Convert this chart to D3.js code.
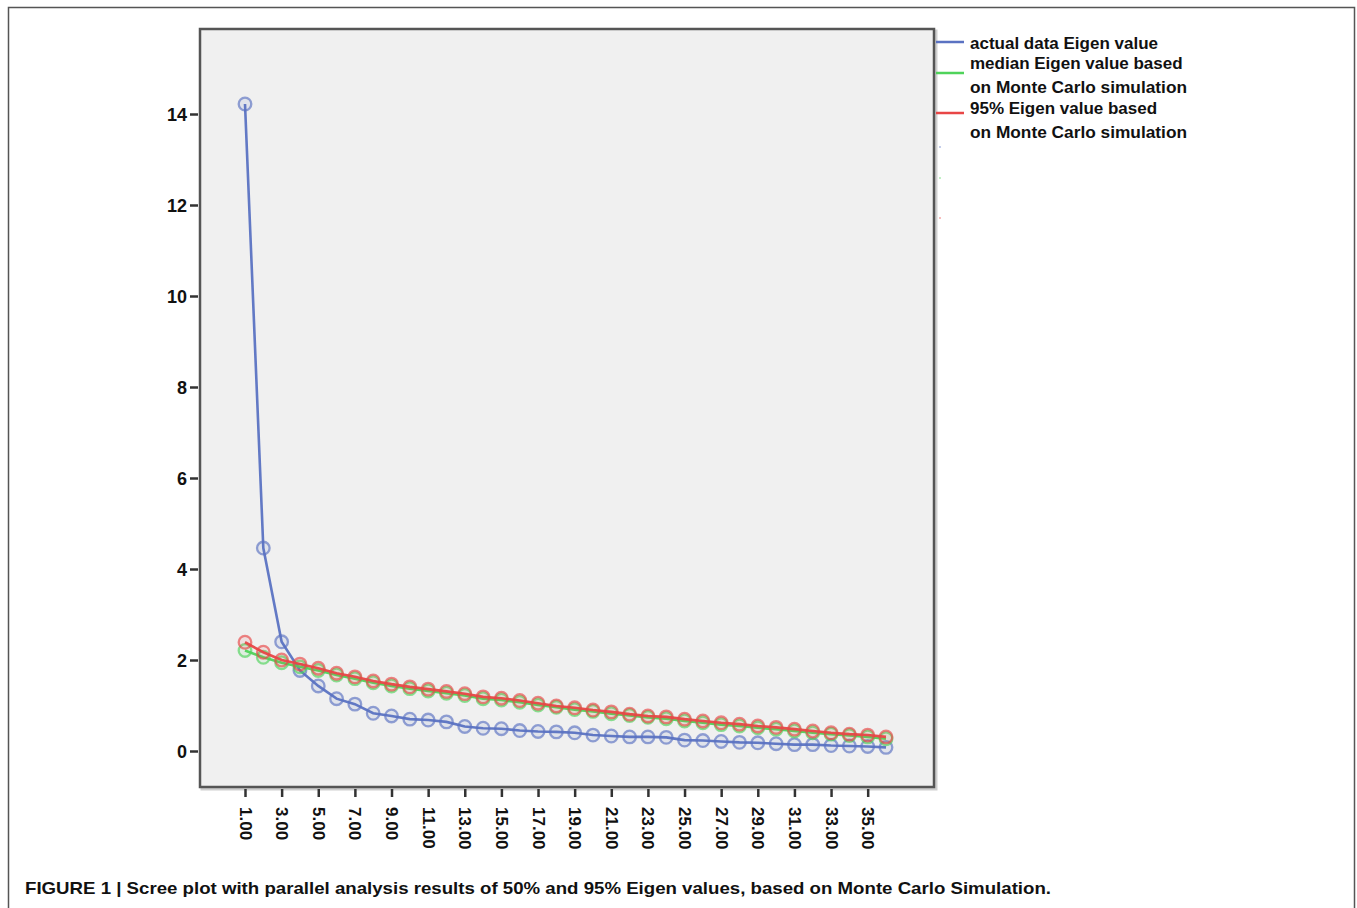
<!DOCTYPE html>
<html>
<head>
<meta charset="utf-8">
<script src="https://cdn.jsdelivr.net/npm/d3@7"></script>
<style>
    body { margin: 0; background: #fff; }
    svg { display: block; }
    text { font-family: "Liberation Sans", Arial, sans-serif; font-weight: bold; fill: #111; }
</style>
</head>
<body>
<svg id="chart" width="1357" height="908"></svg>
<script>
'use strict';

// components (x) and eigen values
const components = d3.range(1, 37);

const actualEigen = [
    14.22, 4.46, 2.40, 1.77, 1.43, 1.15, 1.03, 0.83, 0.77, 0.70,
    0.68, 0.64, 0.54, 0.50, 0.49, 0.45, 0.43, 0.42, 0.40, 0.35,
    0.33, 0.31, 0.31, 0.30, 0.24, 0.23, 0.21, 0.19, 0.18, 0.16,
    0.14, 0.14, 0.12, 0.11, 0.10, 0.08
];

const medianEigen = [
    2.21, 2.06, 1.94, 1.85, 1.77, 1.67, 1.59, 1.50, 1.43, 1.37,
    1.32, 1.27, 1.22, 1.15, 1.12, 1.07, 1.01, 0.96, 0.91, 0.87,
    0.82, 0.78, 0.74, 0.71, 0.66, 0.62, 0.58, 0.55, 0.51, 0.48,
    0.44, 0.40, 0.37, 0.34, 0.31, 0.27
];

const p95Eigen = [
    2.39, 2.17, 2.00, 1.91, 1.82, 1.71, 1.63, 1.54, 1.47, 1.41,
    1.36, 1.31, 1.26, 1.19, 1.16, 1.11, 1.05, 0.99, 0.95, 0.90,
    0.86, 0.81, 0.77, 0.75, 0.70, 0.66, 0.62, 0.59, 0.55, 0.52,
    0.48, 0.44, 0.40, 0.37, 0.35, 0.31
];

const yTicks = [0, 2, 4, 6, 8, 10, 12, 14];
const xTicks = d3.range(1, 36, 2);

const seriesNames = ['actual', 'median', 'p95'];
const legendLabels = [
    ['actual data Eigen value'],
    ['median Eigen value based', 'on Monte Carlo simulation'],
    ['95% Eigen value based', 'on Monte Carlo simulation']
];
const caption = 'FIGURE 1 | Scree plot with parallel analysis results of 50% and 95% Eigen values, based on Monte Carlo Simulation.';

const colors = { actual: '#5a72c2', median: '#4fd35a', p95: '#e84646' };

const svg = d3.select('#chart');

// outer figure border
svg.append('rect')
    .attr('x', 8.5).attr('y', 7.5)
    .attr('width', 1346).attr('height', 920)
    .attr('fill', 'none')
    .attr('stroke', '#555')
    .attr('stroke-width', 1.5);

// plot frame
const frame = { left: 200, top: 29, right: 934, bottom: 787 };

svg.append('rect')
    .attr('x', frame.left + 2).attr('y', frame.top + 2)
    .attr('width', frame.right - frame.left).attr('height', frame.bottom - frame.top)
    .attr('fill', 'none')
    .attr('stroke', '#cfcfcf')
    .attr('stroke-width', 3);

svg.append('rect')
    .attr('x', frame.left).attr('y', frame.top)
    .attr('width', frame.right - frame.left).attr('height', frame.bottom - frame.top)
    .attr('fill', '#f0f0f0')
    .attr('stroke', '#555')
    .attr('stroke-width', 2.5);

// scales
const x = d3.scaleLinear().domain([1, 36]).range([245, 886]);
const y = d3.scaleLinear().domain([0, 14]).range([751, 114]);

// y axis
const yAxis = svg.append('g')
    .attr('transform', `translate(${frame.left - 2},0)`)
    .call(d3.axisLeft(y).tickValues(yTicks).tickSize(8).tickSizeOuter(0).tickPadding(3));
yAxis.select('.domain').remove();
yAxis.selectAll('line').attr('stroke', '#333').attr('stroke-width', 2.5);
yAxis.selectAll('text')
    .style('font-size', '18px')
    .style('font-family', '"Liberation Sans", Arial, sans-serif')
    .style('font-weight', 'bold')
    .attr('fill', '#111')
    .attr('dy', '0.36em');

// x axis with rotated labels
const xAxis = svg.append('g')
    .attr('transform', `translate(0,${frame.bottom + 2})`)
    .call(d3.axisBottom(x).tickValues(xTicks).tickSize(8).tickSizeOuter(0)
        .tickFormat(d => d3.format('.2f')(d)));
xAxis.select('.domain').remove();
xAxis.selectAll('line').attr('stroke', '#333').attr('stroke-width', 2.5);
xAxis.selectAll('text')
    .style('font-size', '17px')
    .style('font-family', '"Liberation Sans", Arial, sans-serif')
    .style('font-weight', 'bold')
    .attr('fill', '#111')
    .attr('text-anchor', 'start')
    .attr('transform', 'rotate(90)')
    .attr('x', 18)
    .attr('y', 0)
    .attr('dy', '0.35em');

// series
const series = {
    actual: actualEigen,
    median: medianEigen,
    p95: p95Eigen
};

const line = d3.line()
    .x((d, i) => x(components[i]))
    .y(d => y(d));

const plot = svg.append('g');

seriesNames.forEach(name => {
    const g = plot.append('g').attr('class', 'series-' + name);

    g.append('path')
        .datum(series[name])
        .attr('d', line)
        .attr('fill', 'none')
        .attr('stroke', colors[name])
        .attr('stroke-width', 2.6)
        .attr('stroke-opacity', 0.95);

    g.selectAll('circle')
        .data(series[name])
        .enter()
        .append('circle')
        .attr('cx', (d, i) => x(components[i]))
        .attr('cy', d => y(d))
        .attr('r', 6.3)
        .attr('fill', colors[name])
        .attr('fill-opacity', 0.1)
        .attr('stroke', colors[name])
        .attr('stroke-opacity', 0.65)
        .attr('stroke-width', 2.3);
});

// legend
const legendY = [42, 73, 113];
const legendBaselines = [[49], [69, 93], [114, 138]];
const legend = svg.append('g');

seriesNames.forEach((name, i) => {
    legend.append('line')
        .attr('x1', 936).attr('x2', 964)
        .attr('y1', legendY[i]).attr('y2', legendY[i])
        .attr('stroke', colors[name])
        .attr('stroke-width', 2.5);

    legendLabels[i].forEach((t, j) => {
        legend.append('text')
            .attr('x', 970)
            .attr('y', legendBaselines[i][j])
            .style('font-size', '17px')
            .attr('textLength', 217)
            .attr('lengthAdjust', 'spacingAndGlyphs')
            .attr('textLength', t.startsWith('on') ? 217 : null)
            .text(t);
    });
});

// faint marker remnants under the legend
[146, 177, 217].forEach((yy, i) => {
    legend.append('rect')
        .attr('x', 939).attr('y', yy)
        .attr('width', 2).attr('height', 2)
        .attr('fill', colors[seriesNames[i]])
        .attr('opacity', 0.35);
});

// caption
svg.append('text')
    .attr('x', 25)
    .attr('y', 894)
    .attr('textLength', 1026)
    .attr('lengthAdjust', 'spacingAndGlyphs')
    .style('font-size', '17px')
    .text(caption);
</script>
</body>
</html>
